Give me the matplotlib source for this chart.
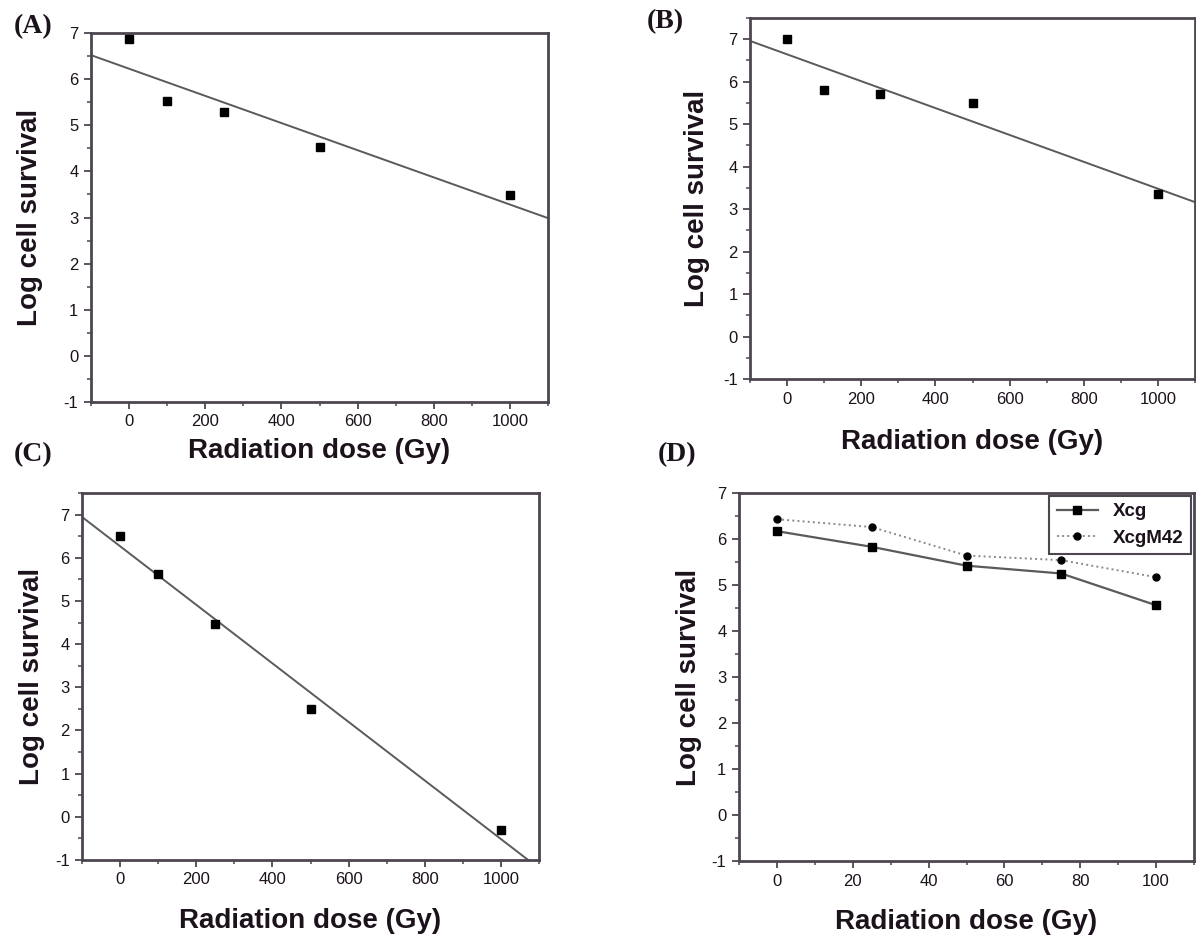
import numpy as np
import matplotlib
matplotlib.use('Agg')
import matplotlib.pyplot as plt
from matplotlib.ticker import MultipleLocator

# data
dose_abc = [0, 100, 250, 500, 1000]
surv_a = [6.86, 5.53, 5.28, 4.52, 3.49]
surv_b = [7.00, 5.81, 5.71, 5.50, 3.35]
surv_c = [6.50, 5.63, 4.47, 2.49, -0.30]

dose_d = [0, 25, 50, 75, 100]
surv_xcg = [6.17, 5.83, 5.42, 5.25, 4.56]
surv_xcgm42 = [6.43, 6.26, 5.64, 5.54, 5.17]

panel_labels = ['(A)', '(B)', '(C)', '(D)']

plt.rcParams['font.family'] = ['Liberation Sans', 'DejaVu Sans']
plt.rcParams['axes.unicode_minus'] = False
TXT = '#1c121c'
SPINE = '#4d4650'
LINE = '#5a5a5a'

W, H = 1196, 940
fig = plt.figure(figsize=(W / 100, H / 100), dpi=100)


def px_axes(l, t, r, b):
    return fig.add_axes([l / W, 1 - b / H, (r - l) / W, (b - t) / H])


def style(ax, xlim, ylim, xmaj, xmin, xlabelpad, ylabelpad):
    ax.set_xlim(*xlim)
    ax.set_ylim(*ylim)
    ax.xaxis.set_major_locator(MultipleLocator(xmaj))
    ax.xaxis.set_minor_locator(MultipleLocator(xmin))
    ax.yaxis.set_major_locator(MultipleLocator(1))
    ax.yaxis.set_minor_locator(MultipleLocator(0.5))
    for s in ax.spines.values():
        s.set_color(SPINE)
        s.set_linewidth(2)
    ax.tick_params(which='major', direction='out', length=5, width=1.3,
                   color=SPINE, labelsize=12, labelcolor=TXT, pad=4)
    ax.tick_params(which='minor', direction='out', length=3, width=1.1,
                   color=SPINE)
    ax.set_xlabel('Radiation dose (Gy)', fontsize=20, fontweight='bold',
                  color=TXT, labelpad=xlabelpad)
    ax.set_ylabel('Log cell survival', fontsize=20, fontweight='bold',
                  color=TXT, labelpad=ylabelpad)


def fit_panel(ax, x, y):
    ax.plot(x, y, 's', color='black', markersize=5.5, zorder=3)
    k, b0 = np.polyfit(x, y, 1)
    xl = np.array(ax.get_xlim())
    ax.plot(xl, k * xl + b0, '-', color=LINE, linewidth=1.4, zorder=2)


ax_a = px_axes(91, 33, 548, 402)
style(ax_a, (-100, 1100), (-1, 7), 200, 100, 6, 15)
fit_panel(ax_a, dose_abc, surv_a)

ax_b = px_axes(750, 18, 1195, 379)
style(ax_b, (-100, 1100), (-1, 7.5), 200, 100, 16, 9)
fit_panel(ax_b, dose_abc, surv_b)

ax_c = px_axes(82, 493, 539, 860)
style(ax_c, (-100, 1100), (-1, 7.5), 200, 100, 15, 7)
fit_panel(ax_c, dose_abc, surv_c)

ax_d = px_axes(739, 493, 1194, 861)
style(ax_d, (-10, 110), (-1, 7), 20, 10, 15, 7)
ax_d.plot(dose_d, surv_xcg, '-s', color=LINE, markerfacecolor='black',
          markeredgecolor='black', markersize=5.5, linewidth=1.6, label='Xcg')
ax_d.plot(dose_d, surv_xcgm42, ':o', color='#8a8a8a', markerfacecolor='black',
          markeredgecolor='black', markersize=5, linewidth=1.4, label='XcgM42')
leg = ax_d.legend(loc='upper right', borderaxespad=0.15, fancybox=False,
                  framealpha=1, edgecolor=SPINE, handlelength=2.2,
                  prop={'family': 'Liberation Sans', 'weight': 'bold', 'size': 13.5})
leg.get_frame().set_linewidth(1.5)
for t in leg.get_texts():
    t.set_color(TXT)

# panel letters
for lab, (x, y) in zip(panel_labels, [(33, 27), (665, 22), (33, 455), (677, 455)]):
    fig.text(x / W, 1 - y / H, lab, ha='center', va='center', fontsize=20,
             fontweight='bold', family='Liberation Serif', color=TXT)

fig.savefig('out.png', dpi=100)
